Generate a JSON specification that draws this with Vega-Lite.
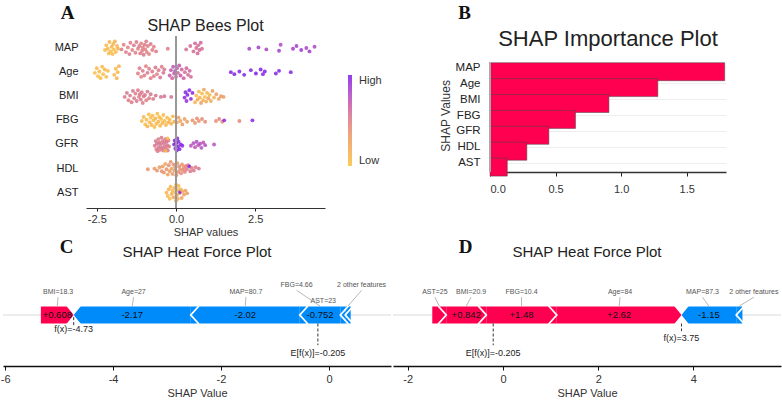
{
  "$schema": "https://vega.github.io/schema/vega-lite/v6.json",
  "background": "white",
  "padding": {"left": 0, "top": 3, "right": 0, "bottom": 0},
  "config": {
    "view": {"stroke": null},
    "font": "Liberation Sans",
    "axis": {"labelFont": "Liberation Sans", "titleFont": "Liberation Sans", "titleFontWeight": "normal", "labelColor": "#333", "titleColor": "#333", "domainColor": "#222", "tickColor": "#222", "grid": false},
    "legend": {"labelFont": "Liberation Sans"},
    "title": {"font": "Liberation Sans", "fontWeight": "normal", "color": "#222"}
  },
  "spacing": 0,
  "vconcat": [
    {
      "bounds": "flush",
      "spacing": 2,
      "hconcat": [
        {"width": 81, "height": 10, "data": {"values": [{}]}, "mark": {"type": "rect", "opacity": 0}, "encoding": {}},
        {
          "width": 239,
          "height": 172,
          "title": {"text": "SHAP Bees Plot", "fontSize": 16, "offset": -43, "frame": "group", "anchor": "middle", "baseline": "alphabetic"},
          "data": {"values": [
            {"f":"MAP","v":-2.24,"j":0.3,"c":0.08},{"f":"MAP","v":-2.2,"j":-0.4,"c":0.05},{"f":"MAP","v":-2.15,"j":0.1,"c":0.1},{"f":"MAP","v":-2.12,"j":0.8,"c":0.06},{"f":"MAP","v":-2.1,"j":-0.9,"c":0.12},{"f":"MAP","v":-2.06,"j":0.5,"c":0.04},{"f":"MAP","v":-2.03,"j":-0.2,"c":0.09},{"f":"MAP","v":-2.0,"j":0.9,"c":0.07},{"f":"MAP","v":-1.98,"j":-0.6,"c":0.11},{"f":"MAP","v":-1.96,"j":0.2,"c":0.05},{"f":"MAP","v":-1.93,"j":-1.0,"c":0.14},{"f":"MAP","v":-1.9,"j":0.6,"c":0.08},{"f":"MAP","v":-1.86,"j":-0.3,"c":0.1},{"f":"MAP","v":-1.83,"j":0.1,"c":0.13},
            {"f":"MAP","v":-1.72,"j":0.2,"c":0.5},{"f":"MAP","v":-1.65,"j":-0.5,"c":0.48},{"f":"MAP","v":-1.58,"j":0.6,"c":0.52},{"f":"MAP","v":-1.52,"j":-0.1,"c":0.47},{"f":"MAP","v":-1.47,"j":0.9,"c":0.53},{"f":"MAP","v":-1.44,"j":-0.8,"c":0.5},{"f":"MAP","v":-1.38,"j":0.3,"c":0.46},{"f":"MAP","v":-1.33,"j":-0.4,"c":0.55},{"f":"MAP","v":-1.28,"j":0.7,"c":0.49},{"f":"MAP","v":-1.25,"j":-0.9,"c":0.51},{"f":"MAP","v":-1.2,"j":0.1,"c":0.47},{"f":"MAP","v":-1.16,"j":-0.3,"c":0.53},{"f":"MAP","v":-1.13,"j":0.8,"c":0.5},{"f":"MAP","v":-1.1,"j":-0.7,"c":0.45},{"f":"MAP","v":-1.07,"j":0.4,"c":0.52},{"f":"MAP","v":-1.05,"j":-0.1,"c":0.48},{"f":"MAP","v":-1.02,"j":1.0,"c":0.54},{"f":"MAP","v":-0.99,"j":-0.5,"c":0.5},{"f":"MAP","v":-0.97,"j":0.2,"c":0.46},{"f":"MAP","v":-0.94,"j":-1.0,"c":0.52},{"f":"MAP","v":-0.92,"j":0.6,"c":0.49},{"f":"MAP","v":-0.89,"j":-0.3,"c":0.51},{"f":"MAP","v":-0.85,"j":0.9,"c":0.47},{"f":"MAP","v":-0.8,"j":-0.6,"c":0.53},{"f":"MAP","v":-0.75,"j":0.3,"c":0.5},{"f":"MAP","v":-0.7,"j":-0.2,"c":0.48},{"f":"MAP","v":-0.63,"j":0.5,"c":0.52},{"f":"MAP","v":-0.26,"j":0.1,"c":0.5},
            {"f":"MAP","v":0.32,"j":0.2,"c":0.57},{"f":"MAP","v":0.45,"j":-0.3,"c":0.6},{"f":"MAP","v":0.55,"j":0.5,"c":0.58},{"f":"MAP","v":0.6,"j":-0.7,"c":0.62},{"f":"MAP","v":0.64,"j":0.0,"c":0.59},{"f":"MAP","v":0.68,"j":0.8,"c":0.61},{"f":"MAP","v":0.7,"j":-0.4,"c":0.57},{"f":"MAP","v":0.74,"j":0.3,"c":0.6},{"f":"MAP","v":0.78,"j":-0.8,"c":0.63},{"f":"MAP","v":0.82,"j":0.1,"c":0.58},
            {"f":"MAP","v":2.31,"j":0.1,"c":0.82},{"f":"MAP","v":2.6,"j":-0.1,"c":0.85},{"f":"MAP","v":2.85,"j":0.2,"c":0.8},{"f":"MAP","v":3.25,"j":0.4,"c":0.84},{"f":"MAP","v":3.3,"j":-0.5,"c":0.78},{"f":"MAP","v":3.69,"j":0.1,"c":0.86},{"f":"MAP","v":3.8,"j":-0.3,"c":0.83},{"f":"MAP","v":3.95,"j":0.3,"c":0.88},{"f":"MAP","v":4.11,"j":0.0,"c":0.81},{"f":"MAP","v":4.21,"j":0.5,"c":0.85},{"f":"MAP","v":4.37,"j":-0.2,"c":0.8},
            {"f":"Age","v":-2.56,"j":0.1,"c":0.04},{"f":"Age","v":-2.5,"j":-0.6,"c":0.06},{"f":"Age","v":-2.46,"j":0.6,"c":0.03},{"f":"Age","v":-2.42,"j":-0.1,"c":0.08},{"f":"Age","v":-2.38,"j":0.9,"c":0.05},{"f":"Age","v":-2.33,"j":-0.8,"c":0.07},{"f":"Age","v":-2.3,"j":0.3,"c":0.04},{"f":"Age","v":-2.25,"j":-0.4,"c":0.09},{"f":"Age","v":-2.2,"j":0.7,"c":0.06},{"f":"Age","v":-2.15,"j":-0.2,"c":0.05},{"f":"Age","v":-1.95,"j":0.4,"c":0.1},{"f":"Age","v":-1.9,"j":-0.5,"c":0.08},{"f":"Age","v":-1.87,"j":0.9,"c":0.12},{"f":"Age","v":-1.84,"j":0.0,"c":0.07},{"f":"Age","v":-1.8,"j":-0.9,"c":0.11},
            {"f":"Age","v":-1.2,"j":0.2,"c":0.5},{"f":"Age","v":-1.15,"j":-0.6,"c":0.52},{"f":"Age","v":-1.1,"j":0.7,"c":0.48},{"f":"Age","v":-1.05,"j":-0.2,"c":0.53},{"f":"Age","v":-1.0,"j":0.5,"c":0.5},{"f":"Age","v":-0.95,"j":-0.9,"c":0.47},{"f":"Age","v":-0.9,"j":0.1,"c":0.55},{"f":"Age","v":-0.85,"j":-0.5,"c":0.51},{"f":"Age","v":-0.8,"j":0.9,"c":0.49},{"f":"Age","v":-0.75,"j":-0.1,"c":0.53},{"f":"Age","v":-0.7,"j":0.6,"c":0.5},{"f":"Age","v":-0.65,"j":-0.7,"c":0.54},{"f":"Age","v":-0.6,"j":0.3,"c":0.48},{"f":"Age","v":-0.55,"j":-0.3,"c":0.52},{"f":"Age","v":-0.5,"j":0.8,"c":0.56},{"f":"Age","v":-0.45,"j":-0.8,"c":0.5},{"f":"Age","v":-0.4,"j":0.1,"c":0.57},{"f":"Age","v":-0.37,"j":-0.4,"c":0.55},
            {"f":"Age","v":-0.2,"j":0.5,"c":0.66},{"f":"Age","v":-0.16,"j":-0.3,"c":0.7},{"f":"Age","v":-0.12,"j":0.9,"c":0.64},{"f":"Age","v":-0.09,"j":-0.8,"c":0.72},{"f":"Age","v":-0.06,"j":0.2,"c":0.68},{"f":"Age","v":-0.03,"j":-0.2,"c":0.74},{"f":"Age","v":0.0,"j":0.7,"c":0.66},{"f":"Age","v":0.03,"j":-0.6,"c":0.7},{"f":"Age","v":0.06,"j":0.1,"c":0.63},{"f":"Age","v":0.1,"j":-1.0,"c":0.71},{"f":"Age","v":0.14,"j":0.5,"c":0.67},{"f":"Age","v":0.18,"j":-0.4,"c":0.62},{"f":"Age","v":0.24,"j":0.9,"c":0.65},{"f":"Age","v":0.28,"j":0.0,"c":0.6},{"f":"Age","v":0.33,"j":-0.6,"c":0.64},{"f":"Age","v":0.38,"j":0.4,"c":0.61},{"f":"Age","v":0.43,"j":-0.2,"c":0.63},{"f":"Age","v":0.47,"j":0.7,"c":0.6},
            {"f":"Age","v":1.73,"j":0.0,"c":0.97},{"f":"Age","v":1.84,"j":0.3,"c":0.98},{"f":"Age","v":2.0,"j":-0.1,"c":0.96},{"f":"Age","v":2.15,"j":0.4,"c":0.99},{"f":"Age","v":2.36,"j":-0.3,"c":0.97},{"f":"Age","v":2.52,"j":0.2,"c":1.0},{"f":"Age","v":2.67,"j":-0.4,"c":0.98},{"f":"Age","v":2.74,"j":0.3,"c":0.96},{"f":"Age","v":2.8,"j":-0.1,"c":0.99},{"f":"Age","v":3.15,"j":0.2,"c":0.97},{"f":"Age","v":3.25,"j":-0.2,"c":1.0},{"f":"Age","v":3.62,"j":0.0,"c":0.98},
            {"f":"BMI","v":-1.62,"j":0.1,"c":0.52},{"f":"BMI","v":-1.55,"j":-0.5,"c":0.55},{"f":"BMI","v":-1.5,"j":0.6,"c":0.5},{"f":"BMI","v":-1.45,"j":-0.1,"c":0.54},{"f":"BMI","v":-1.4,"j":0.9,"c":0.51},{"f":"BMI","v":-1.36,"j":-0.8,"c":0.56},{"f":"BMI","v":-1.32,"j":0.3,"c":0.53},{"f":"BMI","v":-1.28,"j":-0.4,"c":0.5},{"f":"BMI","v":-1.24,"j":0.7,"c":0.55},{"f":"BMI","v":-1.2,"j":-0.9,"c":0.52},{"f":"BMI","v":-1.17,"j":0.1,"c":0.48},{"f":"BMI","v":-1.14,"j":-0.3,"c":0.54},{"f":"BMI","v":-1.11,"j":0.5,"c":0.51},{"f":"BMI","v":-1.08,"j":-0.6,"c":0.53},{"f":"BMI","v":-1.05,"j":1.0,"c":0.5},{"f":"BMI","v":-1.02,"j":0.0,"c":0.55},{"f":"BMI","v":-0.98,"j":-0.2,"c":0.52},{"f":"BMI","v":-0.94,"j":0.6,"c":0.49},{"f":"BMI","v":-0.9,"j":-0.7,"c":0.54},{"f":"BMI","v":-0.85,"j":0.3,"c":0.51},{"f":"BMI","v":-0.8,"j":-0.3,"c":0.56},{"f":"BMI","v":-0.72,"j":0.4,"c":0.53},{"f":"BMI","v":-0.64,"j":-0.1,"c":0.55},{"f":"BMI","v":-0.48,"j":0.1,"c":0.56},{"f":"BMI","v":-0.37,"j":0.0,"c":0.57},{"f":"BMI","v":-0.15,"j":0.1,"c":0.58},
            {"f":"BMI","v":0.27,"j":0.2,"c":0.95},{"f":"BMI","v":0.3,"j":-0.6,"c":0.97},{"f":"BMI","v":0.33,"j":0.7,"c":0.93},{"f":"BMI","v":0.36,"j":-0.2,"c":0.98},{"f":"BMI","v":0.42,"j":-0.9,"c":0.96},{"f":"BMI","v":0.47,"j":0.4,"c":0.94},{"f":"BMI","v":0.52,"j":-0.5,"c":0.97},
            {"f":"BMI","v":0.6,"j":0.9,"c":0.1},{"f":"BMI","v":0.64,"j":-0.1,"c":0.05},{"f":"BMI","v":0.68,"j":0.5,"c":0.2},{"f":"BMI","v":0.72,"j":-0.7,"c":0.08},{"f":"BMI","v":0.75,"j":0.2,"c":0.15},{"f":"BMI","v":0.79,"j":1.0,"c":0.3},{"f":"BMI","v":0.82,"j":-0.4,"c":0.06},{"f":"BMI","v":0.85,"j":0.6,"c":0.12},{"f":"BMI","v":0.88,"j":-1.0,"c":0.25},{"f":"BMI","v":0.91,"j":0.1,"c":0.04},{"f":"BMI","v":0.95,"j":0.8,"c":0.18},{"f":"BMI","v":0.98,"j":-0.5,"c":0.1},{"f":"BMI","v":1.02,"j":0.3,"c":0.28},{"f":"BMI","v":1.06,"j":-0.2,"c":0.07},{"f":"BMI","v":1.1,"j":0.7,"c":0.2},{"f":"BMI","v":1.15,"j":-0.8,"c":0.32},{"f":"BMI","v":1.2,"j":0.2,"c":0.14},{"f":"BMI","v":1.27,"j":-0.3,"c":0.3},{"f":"BMI","v":1.35,"j":0.4,"c":0.26},{"f":"BMI","v":1.42,"j":0.0,"c":0.34},{"f":"BMI","v":1.5,"j":0.1,"c":0.3},
            {"f":"FBG","v":-1.08,"j":0.1,"c":0.06},{"f":"FBG","v":-1.02,"j":-0.5,"c":0.1},{"f":"FBG","v":-0.97,"j":0.6,"c":0.04},{"f":"FBG","v":-0.93,"j":-0.1,"c":0.08},{"f":"FBG","v":-0.9,"j":0.9,"c":0.12},{"f":"FBG","v":-0.86,"j":-0.9,"c":0.05},{"f":"FBG","v":-0.83,"j":0.3,"c":0.09},{"f":"FBG","v":-0.8,"j":-0.4,"c":0.03},{"f":"FBG","v":-0.77,"j":0.7,"c":0.11},{"f":"FBG","v":-0.74,"j":-0.7,"c":0.06},{"f":"FBG","v":-0.71,"j":0.0,"c":0.08},{"f":"FBG","v":-0.68,"j":1.0,"c":0.04},{"f":"FBG","v":-0.65,"j":-0.3,"c":0.13},{"f":"FBG","v":-0.62,"j":0.5,"c":0.07},{"f":"FBG","v":-0.59,"j":-1.0,"c":0.05},{"f":"FBG","v":-0.56,"j":0.2,"c":0.1},{"f":"FBG","v":-0.53,"j":-0.5,"c":0.06},{"f":"FBG","v":-0.5,"j":0.8,"c":0.09},{"f":"FBG","v":-0.47,"j":-0.2,"c":0.04},{"f":"FBG","v":-0.43,"j":0.4,"c":0.12},{"f":"FBG","v":-0.4,"j":-0.8,"c":0.07},{"f":"FBG","v":-0.36,"j":0.1,"c":0.05},{"f":"FBG","v":-0.32,"j":0.7,"c":0.1},{"f":"FBG","v":-0.28,"j":-0.4,"c":0.08},{"f":"FBG","v":-0.24,"j":0.3,"c":0.14},{"f":"FBG","v":-0.2,"j":-0.1,"c":0.06},{"f":"FBG","v":-0.15,"j":0.5,"c":0.11},{"f":"FBG","v":-0.1,"j":-0.6,"c":0.09},{"f":"FBG","v":-0.06,"j":0.2,"c":0.15},
            {"f":"FBG","v":0.03,"j":0.3,"c":0.27},{"f":"FBG","v":0.08,"j":-0.4,"c":0.3},{"f":"FBG","v":0.14,"j":0.1,"c":0.25},{"f":"FBG","v":0.2,"j":0.6,"c":0.32},{"f":"FBG","v":0.27,"j":-0.2,"c":0.28},{"f":"FBG","v":0.35,"j":0.2,"c":0.3},
            {"f":"FBG","v":0.52,"j":0.0,"c":0.38},{"f":"FBG","v":0.6,"j":0.4,"c":0.36},{"f":"FBG","v":0.66,"j":-0.3,"c":0.4},{"f":"FBG","v":0.72,"j":0.1,"c":0.37},{"f":"FBG","v":0.82,"j":-0.2,"c":0.42},{"f":"FBG","v":0.92,"j":0.2,"c":0.39},
            {"f":"FBG","v":1.26,"j":0.1,"c":0.4},{"f":"FBG","v":1.36,"j":-0.2,"c":0.45},{"f":"FBG","v":1.46,"j":0.2,"c":0.41},{"f":"FBG","v":1.52,"j":0.0,"c":0.95},{"f":"FBG","v":2.0,"j":0.1,"c":0.45},{"f":"FBG","v":2.41,"j":0.0,"c":0.96},
            {"f":"GFR","v":-0.67,"j":0.2,"c":0.52},{"f":"GFR","v":-0.64,"j":-0.5,"c":0.55},{"f":"GFR","v":-0.62,"j":0.7,"c":0.5},{"f":"GFR","v":-0.6,"j":-0.1,"c":0.56},{"f":"GFR","v":-0.58,"j":1.0,"c":0.53},{"f":"GFR","v":-0.56,"j":-0.8,"c":0.51},{"f":"GFR","v":-0.54,"j":0.4,"c":0.57},{"f":"GFR","v":-0.52,"j":-0.3,"c":0.54},{"f":"GFR","v":-0.5,"j":0.8,"c":0.5},{"f":"GFR","v":-0.48,"j":0.0,"c":0.55},{"f":"GFR","v":-0.46,"j":-1.0,"c":0.52},{"f":"GFR","v":-0.44,"j":0.5,"c":0.58},{"f":"GFR","v":-0.42,"j":-0.5,"c":0.53},{"f":"GFR","v":-0.4,"j":0.9,"c":0.51},{"f":"GFR","v":-0.38,"j":-0.2,"c":0.56},{"f":"GFR","v":-0.36,"j":0.3,"c":0.52},{"f":"GFR","v":-0.34,"j":-0.8,"c":0.55},{"f":"GFR","v":-0.32,"j":0.6,"c":0.5},{"f":"GFR","v":-0.3,"j":-0.4,"c":0.57},{"f":"GFR","v":-0.28,"j":0.1,"c":0.53},{"f":"GFR","v":-0.26,"j":0.9,"c":0.54},{"f":"GFR","v":-0.24,"j":-0.6,"c":0.51},{"f":"GFR","v":-0.22,"j":0.3,"c":0.55},{"f":"GFR","v":-0.27,"j":-0.9,"c":0.08},{"f":"GFR","v":-0.33,"j":0.95,"c":0.1},
            {"f":"GFR","v":-0.06,"j":0.0,"c":0.97},{"f":"GFR","v":-0.04,"j":-0.6,"c":0.99},{"f":"GFR","v":-0.02,"j":0.6,"c":0.96},{"f":"GFR","v":0.0,"j":-0.2,"c":1.0},{"f":"GFR","v":0.02,"j":0.9,"c":0.98},{"f":"GFR","v":0.04,"j":-0.9,"c":0.97},{"f":"GFR","v":0.06,"j":0.3,"c":0.99},{"f":"GFR","v":0.08,"j":-0.4,"c":0.96},{"f":"GFR","v":0.11,"j":0.7,"c":0.98},{"f":"GFR","v":0.15,"j":0.0,"c":0.97},{"f":"GFR","v":0.2,"j":0.2,"c":0.95},
            {"f":"GFR","v":0.47,"j":0.2,"c":0.74},{"f":"GFR","v":0.55,"j":-0.2,"c":0.76},{"f":"GFR","v":0.6,"j":0.4,"c":0.72},{"f":"GFR","v":0.65,"j":-0.4,"c":0.77},{"f":"GFR","v":0.7,"j":0.1,"c":0.73},{"f":"GFR","v":0.76,"j":-0.1,"c":0.78},{"f":"GFR","v":0.8,"j":0.5,"c":0.75},{"f":"GFR","v":0.86,"j":-0.3,"c":0.72},{"f":"GFR","v":0.92,"j":0.1,"c":0.76},{"f":"GFR","v":1.2,"j":0.0,"c":0.74},
            {"f":"HDL","v":-0.89,"j":0.1,"c":0.36},{"f":"HDL","v":-0.68,"j":0.0,"c":0.34},{"f":"HDL","v":-0.6,"j":0.3,"c":0.38},{"f":"HDL","v":-0.52,"j":-0.2,"c":0.33},{"f":"HDL","v":-0.45,"j":0.4,"c":0.37},
            {"f":"HDL","v":-0.42,"j":-0.3,"c":0.3},{"f":"HDL","v":-0.38,"j":0.6,"c":0.35},{"f":"HDL","v":-0.34,"j":-0.7,"c":0.25},{"f":"HDL","v":-0.3,"j":0.1,"c":0.38},{"f":"HDL","v":-0.26,"j":0.9,"c":0.28},{"f":"HDL","v":-0.23,"j":-0.5,"c":0.4},{"f":"HDL","v":-0.2,"j":0.4,"c":0.32},{"f":"HDL","v":-0.17,"j":-1.0,"c":0.36},{"f":"HDL","v":-0.14,"j":0.0,"c":0.27},{"f":"HDL","v":-0.11,"j":0.8,"c":0.34},{"f":"HDL","v":-0.08,"j":-0.6,"c":0.39},{"f":"HDL","v":-0.05,"j":0.3,"c":0.3},{"f":"HDL","v":-0.02,"j":-0.2,"c":0.35},{"f":"HDL","v":0.01,"j":1.0,"c":0.42},{"f":"HDL","v":0.04,"j":-0.8,"c":0.33},{"f":"HDL","v":0.07,"j":0.5,"c":0.37},{"f":"HDL","v":0.1,"j":-0.3,"c":0.4},{"f":"HDL","v":0.13,"j":0.1,"c":0.36},{"f":"HDL","v":0.16,"j":0.7,"c":0.42},{"f":"HDL","v":0.19,"j":-0.6,"c":0.38},{"f":"HDL","v":0.22,"j":0.2,"c":0.44},{"f":"HDL","v":0.25,"j":-0.2,"c":0.4},{"f":"HDL","v":0.28,"j":0.5,"c":0.45},{"f":"HDL","v":0.31,"j":-0.4,"c":0.43},
            {"f":"HDL","v":0.34,"j":0.1,"c":0.5},{"f":"HDL","v":0.38,"j":-0.5,"c":0.48},{"f":"HDL","v":0.42,"j":-0.3,"c":0.96},{"f":"HDL","v":0.45,"j":0.4,"c":0.52},{"f":"HDL","v":0.5,"j":-0.1,"c":0.49},{"f":"HDL","v":0.56,"j":0.3,"c":0.53},{"f":"HDL","v":0.62,"j":-0.2,"c":0.5},{"f":"HDL","v":0.72,"j":0.0,"c":0.55},
            {"f":"AST","v":-0.3,"j":0.0,"c":0.12},{"f":"AST","v":-0.26,"j":0.5,"c":0.08},{"f":"AST","v":-0.23,"j":-0.5,"c":0.15},{"f":"AST","v":-0.2,"j":0.9,"c":0.05},{"f":"AST","v":-0.17,"j":-0.9,"c":0.1},{"f":"AST","v":-0.14,"j":0.2,"c":0.18},{"f":"AST","v":-0.11,"j":-0.3,"c":0.07},{"f":"AST","v":-0.08,"j":0.7,"c":0.22},{"f":"AST","v":-0.05,"j":-0.7,"c":0.12},{"f":"AST","v":-0.03,"j":0.0,"c":0.09},{"f":"AST","v":0.0,"j":1.2,"c":0.14},{"f":"AST","v":0.0,"j":-1.2,"c":0.06},{"f":"AST","v":0.02,"j":0.4,"c":0.2},{"f":"AST","v":0.04,"j":-0.4,"c":0.1},{"f":"AST","v":0.06,"j":0.9,"c":0.16},{"f":"AST","v":0.08,"j":-1.0,"c":0.08},{"f":"AST","v":0.1,"j":0.1,"c":0.24},{"f":"AST","v":0.13,"j":-0.1,"c":1.0},{"f":"AST","v":0.15,"j":-0.5,"c":0.13},{"f":"AST","v":0.18,"j":0.8,"c":0.25},{"f":"AST","v":0.21,"j":-0.2,"c":0.18},{"f":"AST","v":0.25,"j":0.3,"c":0.3},{"f":"AST","v":0.3,"j":-0.3,"c":0.27},{"f":"AST","v":0.35,"j":0.1,"c":0.32}
          ]},
          "layer": [
            {
              "mark": {"type": "circle", "size": 15, "opacity": 0.85},
              "encoding": {
                "x": {"field": "v", "type": "quantitative", "title": "SHAP values",
                      "scale": {"domain": [-2.84, 4.7], "nice": false, "zero": false},
                      "axis": {"values": [-2.5, 0, 2.5], "format": ".1f", "labelExpr": "replace(datum.label, '\u2212', '-')", "labelFontSize": 11, "tickSize": 3, "labelPadding": 2, "titleFontSize": 11, "titlePadding": 2, "domainWidth": 1.2, "domainColor": "#333"}},
                "y": {"field": "f", "type": "nominal", "sort": ["MAP", "Age", "BMI", "FBG", "GFR", "HDL", "AST"],
                      "scale": {"paddingInner": 0, "paddingOuter": 0.068, "align": 0},
                      "axis": {"domain": false, "ticks": false, "labelPadding": 8, "labelFontSize": 11, "labelColor": "#222",
                               "title": "A", "titleAngle": 0, "titleX": -19, "titleY": -17.3, "titleAlign": "center", "titleBaseline": "alphabetic",
                               "titleFont": "Liberation Serif", "titleFontWeight": "bold", "titleFontSize": 19, "titleColor": "#111"}},
                "yOffset": {"field": "j", "type": "quantitative", "scale": {"domain": [-1.8, 1.8]}},
                "color": {"field": "c", "type": "quantitative",
                          "scale": {"domain": [0, 0.33, 0.55, 0.75, 1], "range": ["#f9c23c", "#e79a62", "#d4758e", "#b24fbe", "#7a1ee8"]},
                          "legend": {"title": null, "orient": "none", "legendX": 345, "legendY": 39, "direction": "vertical",
                                     "gradientLength": 91, "gradientThickness": 4, "gradientStrokeWidth": 0,
                                     "values": [0, 1], "labelExpr": "datum.value > 0.5 ? 'High' : 'Low'",
                                     "labelFontSize": 11, "labelColor": "#333", "labelOffset": 7,
                                     "encode": {"labels": {"update": {"dy": {"signal": "datum.value > 0.5 ? -4 : 7"}}}}}}
              }
            },
            {"mark": {"type": "rule", "color": "#999", "strokeWidth": 1.5}, "encoding": {"x": {"datum": 0}}}
          ]
        },
        {"width": 161, "height": 10, "data": {"values": []}, "mark": "point", "encoding": {}},
        {
          "width": 236,
          "height": 136,
          "title": {"text": "SHAP Importance Plot", "fontSize": 22, "offset": -64.8, "frame": "group", "anchor": "middle", "baseline": "alphabetic"},
          "data": {"values": [
            {"f": "MAP", "imp": 1.79},
            {"f": "Age", "imp": 1.28},
            {"f": "BMI", "imp": 0.907},
            {"f": "FBG", "imp": 0.652},
            {"f": "GFR", "imp": 0.449},
            {"f": "HDL", "imp": 0.281},
            {"f": "AST", "imp": 0.132}
          ]},
          "layer": [
            {
              "mark": {"type": "bar", "color": "#ff0051", "stroke": "#444", "strokeWidth": 0.5},
              "encoding": {
                "x": {"field": "imp", "type": "quantitative",
                      "scale": {"domain": [0, 1.8], "nice": false},
                      "axis": {"values": [0, 0.5, 1, 1.5], "format": ".1f", "labelFontSize": 11, "tickSize": 4, "labelPadding": 7, "domainWidth": 1.5, "domainColor": "#333",
                               "title": "B", "titleAngle": 0, "titleX": -26, "titleY": -153.4, "titleAlign": "center", "titleBaseline": "alphabetic",
                               "titleFont": "Liberation Serif", "titleFontWeight": "bold", "titleFontSize": 19, "titleColor": "#111"}},
                "y": {"field": "f", "type": "nominal", "sort": ["MAP", "Age", "BMI", "FBG", "GFR", "HDL", "AST"],
                      "scale": {"paddingInner": 0.346, "paddingOuter": 0.95, "align": 0.884},
                      "axis": {"domain": false, "ticks": false, "labelPadding": 10, "labelFontSize": 11.5, "labelColor": "#222",
                               "grid": true, "gridColor": "#eeeeee", "bandPosition": 0.5,
                               "title": "SHAP Values", "titleFontSize": 12, "titleX": -45, "titleY": 79.4, "titleAlign": "center", "titleBaseline": "middle"}}
              }
            },
            {
              "mark": {"type": "rule", "color": "#a8a8a8", "strokeWidth": 1.5},
              "encoding": {"x": {"datum": 0}, "y": {"datum": "MAP", "type": "nominal", "bandPosition": 0}, "y2": {"value": "height"}}
            }
          ]
        }
      ]
    },
    {
      "bounds": "flush",
      "spacing": 2,
      "hconcat": [
        {
          "width": 388,
          "height": 85,
          "title": {"text": "SHAP Heat Force Plot", "fontSize": 15, "offset": -33.9, "frame": "group", "anchor": "middle", "baseline": "alphabetic"},
          "data": {"values": [
            {"feat": "BMI", "lab": "BMI=18.3", "val": 0.608, "s": -5.338, "e": -4.73, "side": "pos", "lx": -5.02},
            {"feat": "Age", "lab": "Age=27", "val": -2.17, "s": -4.73, "e": -2.56, "side": "neg", "lx": -3.62},
            {"feat": "MAP", "lab": "MAP=80.7", "val": -2.02, "s": -2.56, "e": -0.54, "side": "neg", "lx": -1.54},
            {"feat": "FBG", "lab": "FBG=4.66", "val": -0.752, "s": -0.54, "e": 0.212, "side": "neg", "lx": -0.6},
            {"feat": "AST", "lab": "AST=23", "val": -0.09, "s": 0.212, "e": 0.302, "side": "neg", "lx": -0.105},
            {"feat": "other", "lab": "2 other features", "val": -0.101, "s": 0.302, "e": 0.403, "side": "neg", "lx": 0.605}
          ]},
          "transform": [{"calculate": "(datum.s + datum.e) / 2", "as": "mid"}],
          "layer": [
            {
              "mark": {"type": "rule", "color": "#ececec", "strokeWidth": 1},
              "encoding": {"y": {"datum": 6, "type": "quantitative", "scale": {"domain": [0, 10]},
                                 "axis": {"domain": false, "ticks": false, "labels": false, "grid": false,
                                          "title": "C", "titleAngle": 0, "titleX": 63, "titleY": -28.3, "titleAlign": "center", "titleBaseline": "alphabetic",
                                          "titleFont": "Liberation Serif", "titleFontWeight": "bold", "titleFontSize": 19, "titleColor": "#111"}}}
            },
            {
              "mark": {"type": "rect"},
              "encoding": {
                "x": {"field": "s", "type": "quantitative", "title": "SHAP Value",
                      "scale": {"domain": [-6.04, 1.15], "nice": false, "zero": false},
                      "axis": {"values": [-6, -4, -2, 0], "labelExpr": "replace(datum.label, '\u2212', '-')", "labelFontSize": 11, "tickSize": 4, "labelPadding": 3, "domainWidth": 1.5, "domainColor": "#111", "tickColor": "#111", "titleFontSize": 11, "titlePadding": 3}},
                "x2": {"field": "e"},
                "y": {"datum": 5, "type": "quantitative"},
                "y2": {"datum": 7},
                "color": {"field": "side", "type": "nominal", "scale": {"domain": ["pos", "neg"], "range": ["#ff0051", "#008bfb"]}, "legend": null}
              }
            },
            {
              "transform": [{"filter": "datum.side == 'pos'"}, {"joinaggregate": [{"op": "max", "field": "e", "as": "emax"}]}, {"filter": "datum.e < datum.emax"}],
              "mark": {"type": "point", "shape": "M-0.9,-1L0,0L-0.9,1", "filled": false, "stroke": "white", "strokeWidth": 1.8, "size": 324, "opacity": 1},
              "encoding": {"x": {"field": "e", "type": "quantitative"}, "y": {"datum": 6, "type": "quantitative"}}
            },
            {
              "transform": [{"filter": "datum.side == 'neg'"}, {"joinaggregate": [{"op": "min", "field": "s", "as": "smin"}]}, {"filter": "datum.s > datum.smin"}],
              "mark": {"type": "point", "shape": "M0.9,-1L0,0L0.9,1", "filled": false, "stroke": "white", "strokeWidth": 1.8, "size": 324, "opacity": 1},
              "encoding": {"x": {"field": "s", "type": "quantitative"}, "y": {"datum": 6, "type": "quantitative"}}
            },
            {
              "transform": [{"filter": "abs(datum.val) > 0.3"}, {"calculate": "replace(format(datum.val, '+.3r'), '\u2212', '-')", "as": "vt"}],
              "mark": {"type": "text", "fontSize": 9.5, "color": "#111", "baseline": "middle"},
              "encoding": {"x": {"field": "mid", "type": "quantitative"}, "y": {"datum": 6, "type": "quantitative"}, "text": {"field": "vt"}}
            },
            {
              "transform": [{"filter": "datum.feat != 'FBG' && datum.feat != 'other' && datum.feat != 'AST'"}],
              "mark": {"type": "text", "fontSize": 7, "color": "#555", "baseline": "middle"},
              "encoding": {"x": {"field": "lx", "type": "quantitative"}, "y": {"datum": 8.7, "type": "quantitative"}, "text": {"field": "lab"}}
            },
            {
              "transform": [{"filter": "datum.feat == 'FBG' || datum.feat == 'other'"}],
              "mark": {"type": "text", "fontSize": 7, "color": "#555", "baseline": "middle"},
              "encoding": {"x": {"field": "lx", "type": "quantitative"}, "y": {"datum": 9.5, "type": "quantitative"}, "text": {"field": "lab"}}
            },
            {
              "transform": [{"filter": "datum.feat == 'AST'"}],
              "mark": {"type": "text", "fontSize": 7, "color": "#555", "baseline": "middle"},
              "encoding": {"x": {"field": "lx", "type": "quantitative"}, "y": {"datum": 7.6, "type": "quantitative"}, "text": {"field": "lab"}}
            },
            {
              "transform": [{"filter": "datum.feat != 'FBG' && datum.feat != 'other' && datum.feat != 'AST'"}],
              "mark": {"type": "rule", "color": "#999", "strokeWidth": 0.7},
              "encoding": {"x": {"field": "lx", "type": "quantitative"}, "x2": {"field": "mid"}, "y": {"datum": 8.1, "type": "quantitative"}, "y2": {"datum": 7.05}}
            },
            {
              "transform": [{"filter": "datum.feat == 'FBG' || datum.feat == 'other'"}],
              "mark": {"type": "rule", "color": "#999", "strokeWidth": 0.7},
              "encoding": {"x": {"field": "lx", "type": "quantitative"}, "x2": {"field": "mid"}, "y": {"datum": 8.9, "type": "quantitative"}, "y2": {"datum": 7.05}}
            },
            {
              "data": {"values": [{"kind": "f(x)", "x": -4.73}, {"kind": "E[f(x)]", "x": -0.205}]},
              "transform": [{"calculate": "datum.kind + '=' + replace(format(datum.x, '.3~r'), '\u2212', '-')", "as": "tag"}],
              "layer": [
                {
                  "transform": [{"filter": "datum.kind == 'f(x)'"}],
                  "mark": {"type": "point", "shape": "M-0.9,-1.1L0,0L0.9,-1.1ZM-0.9,1.1L0,0L0.9,1.1Z", "filled": true, "color": "white", "size": 324, "opacity": 1},
                  "encoding": {"x": {"field": "x", "type": "quantitative"}, "y": {"datum": 6, "type": "quantitative"}}
                },
                {
                  "transform": [{"filter": "datum.kind == 'f(x)'"}],
                  "mark": {"type": "rule", "color": "#333", "strokeWidth": 1, "strokeDash": [3, 2]},
                  "encoding": {"x": {"field": "x", "type": "quantitative"}, "y": {"datum": 5.75, "type": "quantitative"}, "y2": {"datum": 4.8}}
                },
                {
                  "transform": [{"filter": "datum.kind == 'f(x)'"}],
                  "mark": {"type": "text", "fontSize": 9, "color": "#222", "baseline": "middle"},
                  "encoding": {"x": {"field": "x", "type": "quantitative"}, "y": {"datum": 4.35, "type": "quantitative"}, "text": {"field": "tag"}}
                },
                {
                  "transform": [{"filter": "datum.kind == 'E[f(x)]'"}],
                  "mark": {"type": "rule", "color": "#333", "strokeWidth": 1, "strokeDash": [3, 2]},
                  "encoding": {"x": {"field": "x", "type": "quantitative"}, "y": {"datum": 5, "type": "quantitative"}, "y2": {"datum": 2.45}}
                },
                {
                  "transform": [{"filter": "datum.kind == 'E[f(x)]'"}],
                  "mark": {"type": "text", "fontSize": 9, "color": "#222", "baseline": "middle"},
                  "encoding": {"x": {"field": "x", "type": "quantitative"}, "y": {"datum": 1.55, "type": "quantitative"}, "text": {"field": "tag"}}
                }
              ]
            }
          ]
        },
        {
          "width": 388,
          "height": 85,
          "title": {"text": "SHAP Heat Force Plot", "fontSize": 15, "offset": -33.9, "frame": "group", "anchor": "middle", "baseline": "alphabetic"},
          "data": {"values": [
            {"feat": "AST", "lab": "AST=25", "val": 0.293, "s": -1.485, "e": -1.192, "side": "pos", "lx": -1.43},
            {"feat": "BMI", "lab": "BMI=20.9", "val": 0.842, "s": -1.192, "e": -0.35, "side": "pos", "lx": -0.67},
            {"feat": "FBG", "lab": "FBG=10.4", "val": 1.48, "s": -0.35, "e": 1.13, "side": "pos", "lx": 0.39},
            {"feat": "Age", "lab": "Age=84", "val": 2.62, "s": 1.13, "e": 3.75, "side": "pos", "lx": 2.46},
            {"feat": "MAP", "lab": "MAP=87.3", "val": -1.15, "s": 3.75, "e": 4.9, "side": "neg", "lx": 4.19},
            {"feat": "other", "lab": "2 other features", "val": -0.13, "s": 4.9, "e": 5.03, "side": "neg", "lx": 5.27}
          ]},
          "transform": [{"calculate": "(datum.s + datum.e) / 2", "as": "mid"}],
          "layer": [
            {
              "mark": {"type": "rule", "color": "#ececec", "strokeWidth": 1},
              "encoding": {"y": {"datum": 6, "type": "quantitative", "scale": {"domain": [0, 10]},
                                 "axis": {"domain": false, "ticks": false, "labels": false, "grid": false,
                                          "title": "D", "titleAngle": 0, "titleX": 72, "titleY": -28.3, "titleAlign": "center", "titleBaseline": "alphabetic",
                                          "titleFont": "Liberation Serif", "titleFontWeight": "bold", "titleFontSize": 19, "titleColor": "#111"}}}
            },
            {
              "mark": {"type": "rect"},
              "encoding": {
                "x": {"field": "s", "type": "quantitative", "title": "SHAP Value",
                      "scale": {"domain": [-2.31, 5.84], "nice": false, "zero": false},
                      "axis": {"values": [-2, 0, 2, 4], "labelExpr": "replace(datum.label, '\u2212', '-')", "labelFontSize": 11, "tickSize": 4, "labelPadding": 3, "domainWidth": 1.5, "domainColor": "#111", "tickColor": "#111", "titleFontSize": 11, "titlePadding": 3}},
                "x2": {"field": "e"},
                "y": {"datum": 5, "type": "quantitative"},
                "y2": {"datum": 7},
                "color": {"field": "side", "type": "nominal", "scale": {"domain": ["pos", "neg"], "range": ["#ff0051", "#008bfb"]}, "legend": null}
              }
            },
            {
              "transform": [{"filter": "datum.side == 'pos'"}, {"joinaggregate": [{"op": "max", "field": "e", "as": "emax"}]}, {"filter": "datum.e < datum.emax"}],
              "mark": {"type": "point", "shape": "M-0.9,-1L0,0L-0.9,1", "filled": false, "stroke": "white", "strokeWidth": 1.8, "size": 324, "opacity": 1},
              "encoding": {"x": {"field": "e", "type": "quantitative"}, "y": {"datum": 6, "type": "quantitative"}}
            },
            {
              "transform": [{"filter": "datum.side == 'neg'"}, {"joinaggregate": [{"op": "min", "field": "s", "as": "smin"}]}, {"filter": "datum.s > datum.smin"}],
              "mark": {"type": "point", "shape": "M0.9,-1L0,0L0.9,1", "filled": false, "stroke": "white", "strokeWidth": 1.8, "size": 324, "opacity": 1},
              "encoding": {"x": {"field": "s", "type": "quantitative"}, "y": {"datum": 6, "type": "quantitative"}}
            },
            {
              "transform": [{"filter": "abs(datum.val) > 0.3"}, {"calculate": "replace(format(datum.val, '+.3r'), '\u2212', '-')", "as": "vt"}],
              "mark": {"type": "text", "fontSize": 9.5, "color": "#111", "baseline": "middle"},
              "encoding": {"x": {"field": "mid", "type": "quantitative"}, "y": {"datum": 6, "type": "quantitative"}, "text": {"field": "vt"}}
            },
            {
              "mark": {"type": "text", "fontSize": 7, "color": "#555", "baseline": "middle"},
              "encoding": {"x": {"field": "lx", "type": "quantitative"}, "y": {"datum": 8.7, "type": "quantitative"}, "text": {"field": "lab"}}
            },
            {
              "mark": {"type": "rule", "color": "#999", "strokeWidth": 0.7},
              "encoding": {"x": {"field": "lx", "type": "quantitative"}, "x2": {"field": "mid"}, "y": {"datum": 8.1, "type": "quantitative"}, "y2": {"datum": 7.05}}
            },
            {
              "data": {"values": [{"kind": "f(x)", "x": 3.75}, {"kind": "E[f(x)]", "x": -0.205}]},
              "transform": [{"calculate": "datum.kind + '=' + replace(format(datum.x, '.3~r'), '\u2212', '-')", "as": "tag"}],
              "layer": [
                {
                  "transform": [{"filter": "datum.kind == 'f(x)'"}],
                  "mark": {"type": "point", "shape": "M-0.9,-1.1L0,0L0.9,-1.1ZM-0.9,1.1L0,0L0.9,1.1Z", "filled": true, "color": "white", "size": 324, "opacity": 1},
                  "encoding": {"x": {"field": "x", "type": "quantitative"}, "y": {"datum": 6, "type": "quantitative"}}
                },
                {
                  "transform": [{"filter": "datum.kind == 'f(x)'"}],
                  "mark": {"type": "rule", "color": "#333", "strokeWidth": 1, "strokeDash": [3, 2]},
                  "encoding": {"x": {"field": "x", "type": "quantitative"}, "y": {"datum": 5, "type": "quantitative"}, "y2": {"datum": 4.1}}
                },
                {
                  "transform": [{"filter": "datum.kind == 'f(x)'"}],
                  "mark": {"type": "text", "fontSize": 9, "color": "#222", "baseline": "middle"},
                  "encoding": {"x": {"field": "x", "type": "quantitative"}, "y": {"datum": 3.3, "type": "quantitative"}, "text": {"field": "tag"}}
                },
                {
                  "transform": [{"filter": "datum.kind == 'E[f(x)]'"}],
                  "mark": {"type": "rule", "color": "#333", "strokeWidth": 1, "strokeDash": [3, 2]},
                  "encoding": {"x": {"field": "x", "type": "quantitative"}, "y": {"datum": 5, "type": "quantitative"}, "y2": {"datum": 2.45}}
                },
                {
                  "transform": [{"filter": "datum.kind == 'E[f(x)]'"}],
                  "mark": {"type": "text", "fontSize": 9, "color": "#222", "baseline": "middle"},
                  "encoding": {"x": {"field": "x", "type": "quantitative"}, "y": {"datum": 1.55, "type": "quantitative"}, "text": {"field": "tag"}}
                }
              ]
            }
          ]
        }
      ]
    }
  ]
}
